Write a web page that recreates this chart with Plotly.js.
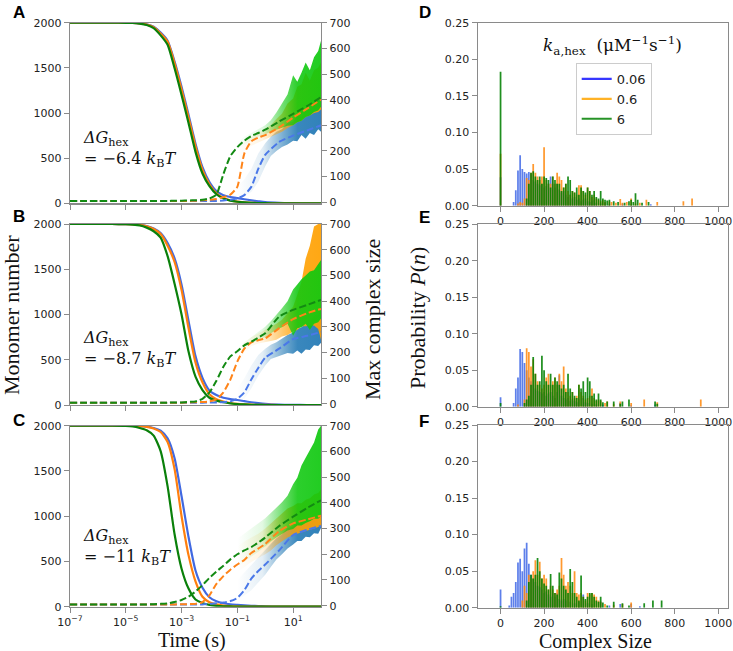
<!DOCTYPE html>
<html><head><meta charset="utf-8">
<script src="https://cdn.plot.ly/plotly-3.0.1.min.js"></script>
<style>html,body{margin:0;padding:0;background:#fff}#chart{width:733px;height:651px}</style>
</head><body><div id="chart"></div>
<script>
// ---------------- DATA ----------------
const logTime = [-7,-6.5,-6,-5.5,-5,-4.75,-4.5,-4.25,-4,-3.75,-3.5,-3.25,-3,-2.75,-2.5,-2.25,-2,-1.75,-1.5,-1.25,-1,-0.75,-0.5,-0.25,0,0.5,1,1.5,2];
const seriesLabels = ['0.06','0.6','6'];
const dGLabels = ['−6.4','−8.7','−11'];
const timeTickVals = [1e-7,1e-5,1e-3,1e-1,1e1];
const timeTickText = ['10<sup>−7</sup>','10<sup>−5</sup>','10<sup>−3</sup>','10<sup>−1</sup>','10<sup>1</sup>'];
const sizeTicks = [0,200,400,600,800,1000];
const probTicks = [0,0.05,0.10,0.15,0.20,0.25];
const monoTicks = [0,500,1000,1500,2000];
const maxTicks = [0,100,200,300,400,500,600,700];

// monomer number (solid), panels A,B,C
const monoA_blue   = [2000,2000,2000,2000,1999,1998,1993,1982,1955,1890,1800,1570,1290,980,660,400,235,135,90,70,57,45,33,22,12,4,1,0,0];
const monoA_orange = [2000,2000,2000,2000,1999,1998,1992,1980,1950,1880,1790,1550,1260,950,630,370,210,110,58,33,18,11,6,3,1,0,0,0,0];
const monoA_green  = [2000,2000,2000,2000,1999,1997,1990,1975,1940,1860,1755,1495,1200,890,570,330,190,100,53,30,17,10,5,3,1,0,0,0,0];
const monoB_blue   = [2000,2000,2000,2000,1998,1997,1992,1978,1950,1900,1790,1620,1330,930,540,300,160,110,80,65,55,42,30,20,12,4,1,0,0];
const monoB_orange = [2000,2000,2000,2000,1998,1996,1990,1975,1945,1890,1760,1580,1270,850,470,250,120,65,38,22,13,8,4,2,1,0,0,0,0];
const monoB_green  = [2000,2000,2000,2000,1997,1993,1985,1960,1920,1850,1645,1340,1000,590,313,165,80,48,30,18,10,6,3,1,0,0,0,0,0];
const monoC_blue   = [2000,2000,2000,2000,2000,1999,1996,1990,1975,1945,1860,1640,1220,770,400,210,105,60,38,27,20,14,10,7,4,1,0,0,0];
const monoC_orange = [2000,2000,2000,2000,2000,1998,1995,1988,1970,1930,1820,1520,1000,570,280,110,50,25,12,6,3,2,1,0,0,0,0,0,0];
const monoC_green  = [2000,2000,2000,2000,1998,1992,1975,1950,1890,1720,1330,800,420,200,80,40,20,10,5,3,1,0,0,0,0,0,0,0,0];

// max complex size (dashed)
const maxA_blue   = [5,5,5,5,5,5,5,5,5,5,5,5,5,5,5,5,5,5,7,10,15,28,60,130,185,235,260,280,300];
const maxA_orange = [5,5,5,5,5,5,5,5,5,5,5,5,5,5,6,8,10,13,20,30,60,190,238,252,262,292,330,365,400];
const maxA_green  = [5,5,5,5,5,5,5,5,5,5,5,6,6,7,8,10,15,30,110,180,215,240,258,270,283,315,345,375,410];
const maxB_blue   = [5,5,5,5,5,5,5,5,5,5,5,5,5,5,5,5,6,6,7,10,20,45,95,140,180,215,252,265,280];
const maxB_orange = [5,5,5,5,5,5,5,5,5,5,5,5,5,6,7,8,10,18,45,95,165,215,240,248,255,295,330,353,370];
const maxB_green  = [5,5,5,5,5,5,5,5,5,5,5,6,6,8,10,20,45,90,145,185,205,228,242,258,275,340,366,385,405];
const maxC_blue   = [5,5,5,5,5,5,5,5,5,5,5,5,5,5,5,5,7,9,12,18,30,60,105,135,160,215,275,295,310];
const maxC_orange = [5,5,5,5,5,5,5,5,5,5,5,5,6,6,7,14,40,85,115,140,160,178,205,222,240,290,320,335,350];
const maxC_green  = [5,5,5,5,5,5,5,5,6,7,9,14,22,35,55,80,108,133,155,180,200,215,228,245,265,310,346,380,410];

// spread bands of max complex size
const bandLogTime = [-1,-0.75,-0.5,-0.25,0,0.2,0.4,0.6,0.8,1.0,1.15,1.3,1.45,1.6,1.75,1.9,2.0];
const bandA_blue_hi   = [60,90,130,190,230,255,275,285,310,315,340,330,365,360,395,380,420];
const bandA_blue_lo   = [10,25,40,80,140,180,200,215,225,240,238,262,248,270,262,285,275];
const bandA_orange_hi = [200,240,255,270,285,300,325,345,385,405,450,460,505,475,515,525,545];
const bandA_orange_lo = [130,200,220,235,245,255,265,275,290,300,312,318,332,338,348,352,362];
const bandA_green_hi  = [235,255,270,285,300,320,350,385,420,495,470,505,545,515,565,590,630];
const bandA_green_lo  = [205,225,240,255,265,275,285,290,298,300,312,318,332,338,352,358,372];
const bandB_blue_hi   = [60,100,150,190,215,230,240,255,268,278,292,298,312,318,342,348,362];
const bandB_blue_lo   = [5,20,60,110,150,175,185,190,198,195,208,195,212,210,228,225,238];
const bandB_orange_hi = [200,240,260,275,290,300,312,328,352,378,425,475,565,615,690,700,700];
const bandB_orange_lo = [140,200,225,235,240,245,250,262,268,282,288,302,302,305,305,292,250];
const bandB_green_hi  = [220,240,260,280,300,322,345,372,400,445,465,485,500,515,520,545,560];
const bandB_green_lo  = [190,215,235,250,260,275,290,298,312,265,295,298,312,288,312,318,332];
const bandC_blue_hi   = [100,130,160,190,220,240,262,278,302,308,322,322,332,332,342,342,352];
const bandC_blue_lo   = [20,40,60,90,120,150,180,200,222,238,252,252,268,266,282,280,302];
const bandC_orange_hi = [230,250,265,280,300,320,340,360,378,388,398,398,412,418,432,438,452];
const bandC_orange_lo = [130,150,170,185,200,215,235,250,265,275,280,285,290,295,300,305,310];
const bandC_green_hi  = [260,280,300,320,340,360,380,402,428,472,498,545,575,605,635,685,700];
const bandC_green_lo  = [150,170,190,210,230,250,265,280,292,298,312,312,322,328,338,338,348];

// histograms: complex size bins and probabilities
const histD_blue_x = [0,60,70,80,90,100,110,120,130,140,150,160,170,180,190,200,210,220,230,240,250,260,270,280,290,300,310,320,330,340,350,360,370,380,390,400,410,420,430,440,460,480,500,560,600,690];
const histD_blue_p = [0.039,0.005,0.021,0.048,0.069,0.05,0.046,0.044,0.046,0.043,0.035,0.033,0.03,0.028,0.03,0.025,0.027,0.03,0.04,0.03,0.025,0.03,0.022,0.018,0.02,0.015,0.012,0.015,0.01,0.012,0.008,0.01,0.006,0.008,0.01,0.006,0.005,0.007,0.008,0.004,0.003,0.004,0.002,0.003,0.002,0.002];
const histD_orange_x = [0,80,90,100,110,120,130,140,150,160,170,180,190,200,210,220,230,240,250,260,270,280,290,300,310,320,330,340,350,360,370,380,390,400,410,420,430,440,450,460,470,480,500,510,530,550,560,580,600,620,640,670,720,840,880];
const histD_orange_p = [0.071,0.003,0.005,0.004,0.01,0.038,0.035,0.045,0.057,0.045,0.04,0.035,0.04,0.08,0.035,0.03,0.03,0.04,0.03,0.045,0.04,0.035,0.025,0.03,0.02,0.015,0.02,0.018,0.015,0.028,0.028,0.02,0.015,0.025,0.02,0.012,0.015,0.01,0.008,0.006,0.008,0.005,0.006,0.005,0.004,0.009,0.004,0.005,0.01,0.003,0.004,0.008,0.005,0.006,0.01];
const histD_green_x = [0,120,130,140,150,160,170,180,190,200,210,220,230,240,250,260,270,280,290,300,310,320,330,340,350,360,370,380,390,400,410,420,430,440,450,460,470,480,490,500,520,540,570,590,600,610,620,630,650,680];
const histD_green_p = [0.183,0.01,0.03,0.045,0.047,0.04,0.035,0.04,0.03,0.04,0.038,0.035,0.025,0.04,0.035,0.03,0.03,0.02,0.025,0.03,0.04,0.035,0.02,0.018,0.025,0.015,0.025,0.02,0.018,0.025,0.02,0.015,0.02,0.012,0.01,0.02,0.01,0.008,0.007,0.008,0.006,0.005,0.004,0.006,0.008,0.005,0.017,0.008,0.004,0.005];

const histE_blue_x = [0,60,70,80,90,100,110,120,130,140,150,160,170,180,190,200,210,220,230,240,250,260,270,280,290,300,310,320,330,340,350,360,380,390,400,420,440,470,550,600,710];
const histE_blue_p = [0.013,0.005,0.025,0.04,0.079,0.075,0.06,0.05,0.04,0.035,0.03,0.025,0.022,0.02,0.018,0.02,0.015,0.018,0.02,0.015,0.012,0.02,0.043,0.015,0.012,0.01,0.012,0.008,0.01,0.008,0.006,0.01,0.012,0.006,0.005,0.004,0.003,0.003,0.005,0.002,0.003];
const histE_orange_x = [80,110,120,130,140,150,160,170,180,190,200,210,220,230,240,250,260,270,280,290,300,310,320,330,340,350,360,370,380,390,400,410,420,430,440,450,460,480,490,520,550,600,660,720,920];
const histE_orange_p = [0.003,0.01,0.08,0.075,0.055,0.065,0.045,0.035,0.03,0.025,0.03,0.04,0.045,0.03,0.035,0.04,0.03,0.045,0.035,0.055,0.025,0.02,0.015,0.02,0.012,0.015,0.03,0.02,0.015,0.01,0.012,0.015,0.025,0.012,0.008,0.01,0.008,0.005,0.007,0.004,0.007,0.005,0.01,0.006,0.01];
const histE_green_x = [0,110,120,130,140,150,160,170,180,190,200,210,220,230,240,250,260,270,280,290,300,310,320,330,340,350,360,370,380,390,400,410,420,430,440,450,460,470,490,520,550,560,590,710,720];
const histE_green_p = [0.005,0.005,0.01,0.015,0.03,0.068,0.045,0.03,0.035,0.07,0.05,0.035,0.03,0.045,0.03,0.04,0.035,0.03,0.025,0.03,0.02,0.045,0.025,0.02,0.015,0.012,0.03,0.025,0.035,0.02,0.04,0.035,0.015,0.018,0.01,0.018,0.01,0.006,0.007,0.007,0.004,0.007,0.01,0.007,0.004];

const histF_blue_x = [0,40,50,60,70,80,90,100,110,120,130,140,150,160,170,180,190,200,210,220,230,240,250,260,270,280,290,300,320,340,360,380,400,420,460,500,550,600,640];
const histF_blue_p = [0.025,0.003,0.015,0.02,0.035,0.062,0.067,0.05,0.081,0.089,0.06,0.045,0.04,0.035,0.03,0.028,0.025,0.02,0.022,0.018,0.015,0.02,0.015,0.02,0.012,0.01,0.012,0.01,0.008,0.006,0.008,0.018,0.006,0.005,0.008,0.003,0.005,0.005,0.002];
const histF_orange_x = [100,110,120,130,140,150,160,170,180,190,200,210,220,230,240,250,260,270,280,290,300,310,320,330,340,350,360,370,380,390,400,410,420,430,440,450,460,480,520,560,600];
const histF_orange_p = [0.01,0.03,0.02,0.045,0.04,0.05,0.065,0.045,0.063,0.04,0.045,0.04,0.025,0.03,0.025,0.02,0.025,0.03,0.068,0.045,0.03,0.035,0.03,0.02,0.05,0.02,0.018,0.02,0.015,0.01,0.02,0.018,0.02,0.018,0.015,0.01,0.008,0.005,0.004,0.005,0.007];
const histF_green_x = [0,120,130,140,150,160,170,180,190,200,210,220,230,240,250,260,270,280,290,300,310,320,330,340,350,360,370,380,390,400,410,420,430,440,450,460,470,490,520,560,590,660,700,740];
const histF_green_p = [0.002,0.01,0.035,0.045,0.04,0.045,0.068,0.05,0.04,0.033,0.03,0.025,0.046,0.03,0.02,0.018,0.048,0.04,0.03,0.025,0.02,0.053,0.035,0.02,0.015,0.01,0.044,0.015,0.012,0.015,0.02,0.02,0.015,0.01,0.008,0.015,0.007,0.003,0.008,0.006,0.003,0.006,0.01,0.01];

// ---------------- STYLE / LAYOUT ----------------
const W = 733, H = 651;
const px = v => v / W, py = v => 1 - v / H;
const tickFont = {family:'DejaVu Sans, sans-serif', size:11, color:'#222'};
const axLine = '#8a8a8a';
const solidCol = {blue:'#4169e1', orange:'#ff7f0e', green:'#0a800a'};
const dashCol = {blue:'#4a78e8', orange:'#ff8419', green:'#138a13'};
const bandRGB = {blue:'31,119,180', orange:'255,160,0', green:'15,200,15'};
const barCol = {blue:'rgba(65,105,230,0.85)', orange:'rgba(255,135,10,0.85)', green:'rgba(0,128,0,0.88)'};

const left = [70, 321], right = [477.7, 728];
const leftRows = [[22.7,203.3],[224,405],[425.7,606.7]];
const rightRows = [[22.7,205.7],[224.3,406.7],[425,607.7]];

const times = logTime.map(v => Math.pow(10, v));
const bandTimes = bandLogTime.map(v => Math.pow(10, v));

const mono = [[monoA_blue,monoA_orange,monoA_green],[monoB_blue,monoB_orange,monoB_green],[monoC_blue,monoC_orange,monoC_green]];
const maxs = [[maxA_blue,maxA_orange,maxA_green],[maxB_blue,maxB_orange,maxB_green],[maxC_blue,maxC_orange,maxC_green]];
const bands = [
  [[bandA_blue_hi,bandA_blue_lo],[bandA_orange_hi,bandA_orange_lo],[bandA_green_hi,bandA_green_lo]],
  [[bandB_blue_hi,bandB_blue_lo],[bandB_orange_hi,bandB_orange_lo],[bandB_green_hi,bandB_green_lo]],
  [[bandC_blue_hi,bandC_blue_lo],[bandC_orange_hi,bandC_orange_lo],[bandC_green_hi,bandC_green_lo]]];
const hists = [
  [[histD_blue_x,histD_blue_p],[histD_orange_x,histD_orange_p],[histD_green_x,histD_green_p]],
  [[histE_blue_x,histE_blue_p],[histE_orange_x,histE_orange_p],[histE_green_x,histE_green_p]],
  [[histF_blue_x,histF_blue_p],[histF_orange_x,histF_orange_p],[histF_green_x,histF_green_p]]];
const names = ['blue','orange','green'];

const traces = [];
const layout = {
  width: W, height: H, margin:{l:0,r:0,t:0,b:0}, paper_bgcolor:'#fff', plot_bgcolor:'#fff',
  showlegend: true, barmode:'overlay', annotations: [],
  legend:{x:px(575.7), y:py(63), xanchor:'left', yanchor:'top', bgcolor:'#fff', bordercolor:'#cccccc', borderwidth:1,
    font:{family:'DejaVu Sans, sans-serif', size:13, color:'#222'}, itemwidth:30, tracegroupgap:0}
};

function yax(o){ return Object.assign({showgrid:false, zeroline:false, showline:true, linecolor:axLine, linewidth:1.2,
  ticks:'outside', ticklen:5, tickwidth:1, tickcolor:axLine, tickfont:tickFont, fixedrange:true}, o); }

for (let p = 0; p < 3; p++) {
  const xn = p === 0 ? '' : String(p+1);
  const yl = p === 0 ? '' : String(2*p+1);
  const yr = String(2*p+2);
  const [t0, t1] = leftRows[p];
  const dom = [py(t1), py(t0)];
  layout['xaxis'+xn] = yax({type:'log', range:[-7,2], domain:[px(left[0]), px(left[1])], anchor:'y'+yl,
    tickvals:timeTickVals, ticktext:timeTickText, showticklabels: p===2, mirror:true});
  layout['yaxis'+yl] = yax({range:[0,2000], domain:dom, anchor:'x'+xn, tickvals:monoTicks});
  layout['yaxis'+yr] = yax({range:[-4,700], domain:dom, anchor:'x'+xn, overlaying:'y'+yl, side:'right', tickvals:maxTicks});
  for (let s = 0; s < 3; s++) {
    traces.push({type:'scatter', mode:'lines', x:times, y:mono[p][s], xaxis:'x'+xn, yaxis:'y'+yl,
      line:{color:solidCol[names[s]], width:2.2, shape:'spline', smoothing:0.6}, showlegend:false, hoverinfo:'skip'});
  }
  for (let s = 0; s < 3; s++) {
    const [hi, lo] = bands[p][s];
    const rgb = bandRGB[names[s]];
    traces.push({type:'scatter', mode:'lines', x:bandTimes.concat(bandTimes.slice().reverse()), y:hi.concat(lo.slice().reverse()),
      xaxis:'x'+xn, yaxis:'y'+yr, fill:'toself', line:{width:0}, fillcolor:`rgba(${rgb},0.5)`,
      fillgradient:{type:'horizontal', colorscale:[[0,`rgba(${rgb},0)`],[0.3,`rgba(${rgb},0.12)`],[0.55,`rgba(${rgb},0.6)`],[0.72,`rgba(${rgb},0.88)`],[1,`rgba(${rgb},0.92)`]]},
      showlegend:false, hoverinfo:'skip'});
  }
  for (let s = 0; s < 3; s++) {
    traces.push({type:'scatter', mode:'lines', x:times, y:maxs[p][s], xaxis:'x'+xn, yaxis:'y'+yr,
      line:{color:dashCol[names[s]], width:2, dash:'7px,3px', shape:'spline', smoothing:0.5}, showlegend:false, hoverinfo:'skip'});
  }
  const baseY = [149, 349, 547][p];
  layout.annotations.push({xref:'paper', yref:'paper', x:px(81), y:py(baseY), xanchor:'left', yanchor:'middle', align:'left', showarrow:false,
    text:'<i>ΔG</i><sub>hex</sub><br>= ' + dGLabels[p] + ' <i>k</i><sub>B</sub><i>T</i>',
    font:{family:'DejaVu Serif, serif', size:16, color:'#111'}});
}

for (let p = 0; p < 3; p++) {
  const xn = String(p+4), yn = String(p+7);
  const [t0, t1] = rightRows[p];
  layout['xaxis'+xn] = yax({range:[-105,1045], domain:[px(right[0]), px(right[1])], anchor:'y'+yn, tickvals:sizeTicks, mirror:true});
  layout['yaxis'+yn] = yax({range:[0,0.25], domain:[py(t1), py(t0)], anchor:'x'+xn, tickvals:probTicks, tickformat:'.2f', mirror:true});
  for (let s = 0; s < 3; s++) {
    const [hx, hp] = hists[p][s];
    traces.push({type:'bar', x:hx, y:hp, width:8, xaxis:'x'+xn, yaxis:'y'+yn,
      marker:{color:barCol[names[s]], line:{width:0}}, showlegend:false, hoverinfo:'skip'});
  }
}
const legCol = ['rgba(20,20,255,0.85)','rgba(255,165,0,0.85)','rgba(0,128,0,0.85)'];
for (let s = 0; s < 3; s++) {
  traces.push({type:'scatter', mode:'lines', x:[-1000], y:[-1], xaxis:'x4', yaxis:'y7', name:seriesLabels[s],
    line:{color:legCol[s], width:2.2}, showlegend:true, hoverinfo:'skip'});
}

const serif = 'Liberation Serif, Times New Roman, serif';
const ann = (x, y, text, o={}) => layout.annotations.push(Object.assign({xref:'paper', yref:'paper', x:px(x), y:py(y),
  xanchor:'center', yanchor:'middle', showarrow:false, text, font:{family:serif, size:22, color:'#111'}}, o));
ann(11, 315, 'Monomer number', {textangle:-90});
ann(373, 320, 'Max complex size', {textangle:-90});
ann(417, 318, 'Probability <i>P</i>(<i>n</i>)', {textangle:-90});
ann(192, 640, 'Time (s)', {font:{family:serif, size:20, color:'#111'}});
ann(595, 641, 'Complex Size', {font:{family:serif, size:20, color:'#111'}});
ann(612, 45, '<i>k</i><sub>a,hex</sub>\u00a0\u00a0(μM<sup>−1</sup>s<sup>−1</sup>)', {font:{family:'DejaVu Serif, serif', size:17, color:'#111'}});
const lab = {family:'Liberation Sans, Arial, sans-serif', size:17, color:'#000'};
[['A',19,12],['B',19,217],['C',19,420],['D',425,12],['E',424,218],['F',424,421]].forEach(([t,x,y]) =>
  ann(x, y, '<b>'+t+'</b>', {font:lab}));

Plotly.newPlot('chart', traces, layout, {displayModeBar:false, staticPlot:true});
</script></body></html>
